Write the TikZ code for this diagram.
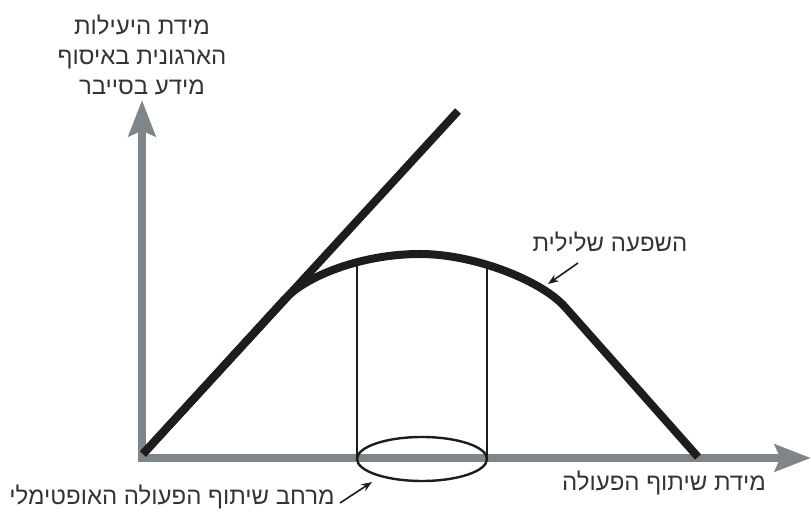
\documentclass[tikz,border=0pt]{standalone}
\usepackage{fontspec}
\newfontfamily\hebfont[Script=Hebrew]{Liberation Sans}
\TeXXeTstate=1
\usepackage{tikz}
\usetikzlibrary{arrows.meta,shapes.geometric}
\definecolor{axisgray}{HTML}{7f8588}
\definecolor{inkblack}{HTML}{1d1d1b}
\tikzset{
  axisline/.style={
    {Stealth[length=27pt,width=20pt,inset=4pt]}-{Stealth[length=27pt,width=20pt,inset=4pt]},
    line width=6pt, color=axisgray, line join=miter},
  curveline/.style={line width=6pt, color=inkblack, line cap=butt},
  thinline/.style={line width=1.6pt, color=inkblack},
  notearrow/.style={-{Stealth[length=8pt,width=6pt]}, line width=1.2pt, color=inkblack},
  hebtext/.style={font=\hebfont\fontsize{18}{22.5}\selectfont, text=inkblack!90, align=center, inner sep=0pt},
}

\begin{document}
\begin{tikzpicture}[x=0.75pt,y=0.75pt]
  \useasboundingbox (0,0) rectangle (811,513);
  % axes
  \coordinate (o) at (142,55);
  \coordinate (ytip) at (142,413);
  \coordinate (xtip) at (811,55);
  \draw[axisline] (ytip) -- (o) -- (xtip);
  % straight line and curve
  \coordinate (s) at (143,59);
  \coordinate (t) at (458,402);
  \coordinate (b) at (285,214);
  \coordinate (p) at (420,259);
  \coordinate (r) at (565,206);
  \coordinate (e) at (698,56);
  \draw[curveline] (s) -- (t);
  \draw[curveline] (s) -- (b) .. controls (305,236) and (360,259) .. (p)
    .. controls (475,259) and (542,232) .. (r) -- (e);
  % optimal range
  \node[draw=inkblack, line width=1.8pt, ellipse, minimum width=97.5pt, minimum height=33pt,
        inner sep=0pt, outer sep=0pt] (opt) at (422,54) {};
  \draw[thinline] (opt.west) -- (357,248);
  \draw[thinline] (opt.east) -- (487,246);
  % labels
  \node[hebtext] (ylab) at (142,458)
    {\beginR מידת היעילות\endR\\\beginR הארגונית באיסוף\endR\\\beginR מידע בסייבר\endR};
  \node[hebtext] (xlab) at (664,30) {\beginR מידת שיתוף הפעולה\endR};
  \node[hebtext] (neg) at (610,271) {\beginR השפעה שלילית\endR};
  \node[hebtext] (range) at (172,16) {\beginR מרחב שיתוף הפעולה האופטימלי\endR};
  \coordinate (negtail) at (578,250);
  \coordinate (negtip) at (548,229);
  \coordinate (rangetail) at (340,10);
  \coordinate (rangetip) at (372,31);
  \draw[notearrow] (negtail) -- (negtip);
  \draw[notearrow] (rangetail) -- (rangetip);
\end{tikzpicture}
\end{document}
